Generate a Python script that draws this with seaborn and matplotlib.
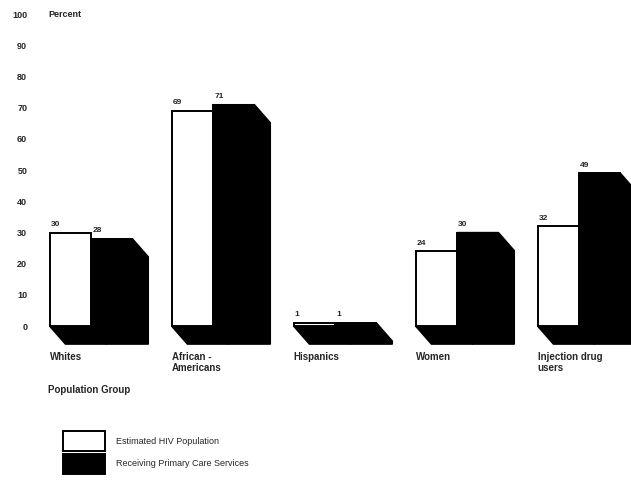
import matplotlib
matplotlib.use("Agg")
import matplotlib.pyplot as plt
from matplotlib.patches import Polygon, Patch
import seaborn as sns
import pandas as pd

groups = ["Whites", "African -\nAmericans", "Hispanics", "Women", "Injection drug\nusers"]
estimated = [30, 69, 1, 24, 32]
receiving = [28, 71, 1, 30, 49]
series_names = ["Estimated HIV Population", "Receiving Primary Care Services"]
yticks = list(range(0, 101, 10))

df = pd.DataFrame({
    "group": groups * 2,
    "value": estimated + receiving,
    "series": [series_names[0]] * len(groups) + [series_names[1]] * len(groups),
})

sns.set_style("white")
plt.rcParams["font.family"] = ["Liberation Sans", "DejaVu Sans"]

fig = plt.figure(figsize=(6.31, 4.82), dpi=100)
ax = fig.add_axes([30 / 631, 1 - 351 / 482, 601 / 631, 343 / 482])

sns.barplot(data=df, x="group", y="value", hue="series", palette=["white", "black"],
            edgecolor="black", linewidth=1.4, width=0.68, gap=0, ax=ax, legend=False,
            zorder=3)

DX, DY = 0.13, 5.8  # 3-D depth offset (data units)
white_c, black_c = ax.containers[0], ax.containers[1]
for bar in white_c:
    x, w = bar.get_x(), bar.get_width()
    ax.add_patch(Polygon([(x, 0), (x + w, 0), (x + w + DX, -DY), (x + DX, -DY)],
                         closed=True, facecolor="black", edgecolor="black", zorder=2))
for bar in black_c:
    x, w, h = bar.get_x(), bar.get_width(), bar.get_height()
    ax.add_patch(Polygon([(x, h), (x + w, h), (x + w + DX, h - DY), (x + w + DX, -DY),
                          (x + DX, -DY), (x, 0)],
                         closed=True, facecolor="black", edgecolor="black", zorder=2))
for cont in (white_c, black_c):
    for bar in cont:
        ax.text(bar.get_x() + 0.01, bar.get_height() + 1.5, f"{int(round(bar.get_height()))}",
                ha="left", va="bottom", fontsize=6, fontweight="bold", zorder=5)

ax.set_xlim(-0.5, -0.5 + 601 / 122)
ax.set_ylim(-8, 102)
ax.set_yticks(yticks)
ax.set_yticklabels([str(t) for t in yticks], fontsize=6.5, fontweight="bold")
ax.tick_params(axis="y", length=0, pad=2)
ax.set_xticks([i - 0.34 for i in range(len(groups))])
ax.set_xticklabels(groups, fontsize=7, fontweight="bold", ha="left", va="top",
                   linespacing=1.1)
ax.tick_params(axis="x", length=0, pad=1)
ax.set_xlabel("")
ax.set_ylabel("")
for s in ax.spines.values():
    s.set_visible(False)

ax.text(0.03, 100, "Percent", fontsize=6.5, fontweight="bold", va="center", ha="left",
        transform=ax.get_yaxis_transform())
fig.text(48 / 631, 1 - 390 / 482, "Population Group", fontsize=7, fontweight="bold",
         ha="left", va="center")

handles = [Patch(facecolor="white", edgecolor="black", linewidth=1.4),
           Patch(facecolor="black", edgecolor="black", linewidth=1.4)]
fig.legend(handles, series_names, loc="upper left", bbox_to_anchor=(63 / 631, 1 - 431 / 482),
           frameon=False, fontsize=6.5, handlelength=4.7, handleheight=3.1,
           labelspacing=0.25, handletextpad=1.2, borderaxespad=0, borderpad=0)

fig.savefig("out.png", dpi=100, facecolor="white")
